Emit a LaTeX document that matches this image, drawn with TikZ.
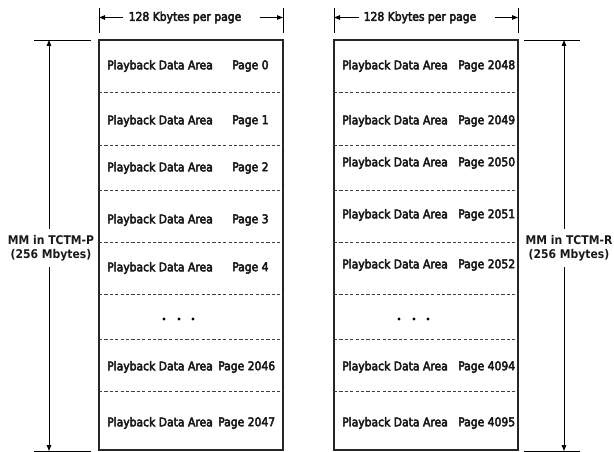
\documentclass[tikz,border=0pt]{standalone}
\usepackage{fontspec}
\setmainfont{DejaVu Sans Condensed}
\newfontfamily\bodyfont{DejaVu Sans Condensed}[FakeBold=4]
\newfontfamily\sidefont{DejaVu Sans Condensed Bold}
\usetikzlibrary{arrows.meta}
\begin{document}
\begin{tikzpicture}[x=1bp,y=-1bp,
  every node/.style={inner sep=0pt,font=\bodyfont\fontsize{12bp}{15bp}\selectfont,text=black!90},
  frame/.style={draw=black!85,line width=1.1bp},
  divider/.style={draw=black!75,line width=0.8bp,dash pattern=on 3.2bp off 2.2bp},
  dim/.style={draw=black,line width=0.9bp},
  dimarrow/.style={dim,-{Triangle[length=6bp,width=4.5bp]}},
  area/.style={anchor=west},
  pg/.style={anchor=west},
  side/.style={align=center,inner sep=0pt,font=\sidefont\fontsize{12bp}{14bp}\selectfont},
  dot/.style={circle,fill=black,minimum size=3.2bp,inner sep=0pt}]
\useasboundingbox (0,0) rectangle (614,452);

% ---------- left memory map ----------
\draw[frame] (99,40) rectangle (283,450);
\foreach \y in {92,145,190,242,294,339,391}
  \draw[divider] (99,\y) -- (283,\y);

\node[area] (la0) at (107,66)  {Playback Data Area};  \node[pg] (lp0) at (232,66)  {Page 0};
\node[area] (la1) at (107,121) {Playback Data Area};  \node[pg] (lp1) at (232,121) {Page 1};
\node[area] (la2) at (107,168) {Playback Data Area};  \node[pg] (lp2) at (232,168) {Page 2};
\node[area] (la3) at (107,220) {Playback Data Area};  \node[pg] (lp3) at (232,220) {Page 3};
\node[area] (la4) at (107,268) {Playback Data Area};  \node[pg] (lp4) at (232,268) {Page 4};
\node[dot] (ld1) at (164,319) {};
\node[dot] (ld2) at (179,319) {};
\node[dot] (ld3) at (193,319) {};
\node[area] (la6) at (107,367) {Playback Data Area};  \node[pg] (lp6) at (218,367) {Page 2046};
\node[area] (la7) at (107,423) {Playback Data Area};  \node[pg] (lp7) at (218,423) {Page 2047};

% width dimension, left
\draw[dim] (99,8) -- (99,33);
\draw[dim] (283,8) -- (283,33);
\node (lw) at (185,17.5) {128 Kbytes per page};
\coordinate (lwl) at (99,17.5);
\coordinate (lwr) at (283,17.5);
\draw[dimarrow] ([xshift=-5bp]lw.west) -- (lwl);
\draw[dimarrow] ([xshift=18bp]lw.east) -- (lwr);

% size dimension, left
\draw[dim] (34,40) -- (91,40);
\draw[dim] (34,451) -- (91,451);
\coordinate (lht) at (49,40);
\coordinate (lhb) at (49,451);
\node[side] (lh) at (51,248) {MM in TCTM-P\\(256 Mbytes)};
\draw[dimarrow] ([yshift=6bp]lh.north -| lht) -- (lht);
\draw[dimarrow] ([yshift=-6bp]lh.south -| lhb) -- (lhb);

% ---------- right memory map ----------
\draw[frame] (334,40) rectangle (518,450);
\foreach \y in {92,145,190,242,294,339,391}
  \draw[divider] (334,\y) -- (518,\y);

\node[area] (ra0) at (342,66)  {Playback Data Area};  \node[pg] (rp0) at (458,66)  {Page 2048};
\node[area] (ra1) at (342,121) {Playback Data Area};  \node[pg] (rp1) at (458,121) {Page 2049};
\node[area] (ra2) at (342,163) {Playback Data Area};  \node[pg] (rp2) at (458,163) {Page 2050};
\node[area] (ra3) at (342,215) {Playback Data Area};  \node[pg] (rp3) at (458,215) {Page 2051};
\node[area] (ra4) at (342,265) {Playback Data Area};  \node[pg] (rp4) at (458,265) {Page 2052};
\node[dot] (rd1) at (399,319) {};
\node[dot] (rd2) at (414,319) {};
\node[dot] (rd3) at (428,319) {};
\node[area] (ra6) at (342,367) {Playback Data Area};  \node[pg] (rp6) at (458,367) {Page 4094};
\node[area] (ra7) at (342,423) {Playback Data Area};  \node[pg] (rp7) at (458,423) {Page 4095};

% width dimension, right
\draw[dim] (334,8) -- (334,33);
\draw[dim] (518,8) -- (518,33);
\node (rw) at (420,17.5) {128 Kbytes per page};
\coordinate (rwl) at (334,17.5);
\coordinate (rwr) at (518,17.5);
\draw[dimarrow] ([xshift=-5bp]rw.west) -- (rwl);
\draw[dimarrow] ([xshift=18bp]rw.east) -- (rwr);

% size dimension, right
\draw[dim] (524,40) -- (580,40);
\draw[dim] (524,451) -- (580,451);
\coordinate (rht) at (564,40);
\coordinate (rhb) at (564,451);
\node[side] (rh) at (569,248) {MM in TCTM-R\\(256 Mbytes)};
\draw[dimarrow] ([yshift=6bp]rh.north -| rht) -- (rht);
\draw[dimarrow] ([yshift=-6bp]rh.south -| rhb) -- (rhb);
\end{tikzpicture}
\end{document}
